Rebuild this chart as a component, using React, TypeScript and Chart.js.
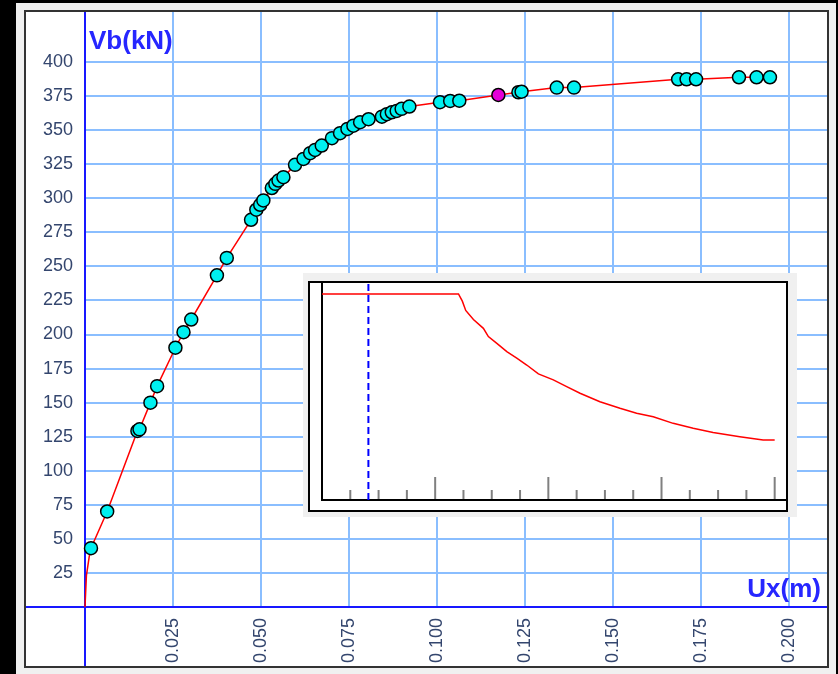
import React, { useEffect, useRef } from 'react';
import { Chart, registerables } from 'chart.js';

Chart.register(...registerables);

// Pushover curve: roof displacement Ux (m) and base shear Vb (kN)
const uxData = [
  0, 0.0004, 0.0012, 0.0017, 0.0063, 0.0149, 0.0155, 0.0186, 0.0205, 0.0257,
  0.028, 0.0302, 0.0375, 0.0403, 0.0472, 0.0487, 0.0498, 0.0507, 0.0531, 0.0541,
  0.055, 0.0564, 0.0597, 0.0621, 0.064, 0.0654, 0.0673, 0.0702, 0.0725, 0.0746,
  0.0763, 0.0782, 0.0806, 0.0844, 0.0858, 0.0872, 0.0886, 0.09, 0.0922, 0.1009,
  0.1038, 0.1064, 0.1175, 0.1232, 0.1241, 0.1341, 0.139, 0.1686, 0.171, 0.1737,
  0.1859, 0.1909, 0.1947,
];
const vbData = [
  0, 23, 37, 43.2, 70.1, 129.2, 130.4, 150, 162.1, 190.3,
  201.7, 211, 243.4, 256.2, 284.2, 291.6, 295.2, 298.4, 307.5, 310.6,
  313, 315.5, 324.5, 328.9, 333.1, 335.5, 338.7, 344.1, 347.8, 350.9,
  353.3, 355.8, 358, 359.9, 361.7, 363.1, 364.1, 365.6, 367.3, 370.5,
  371.4, 371.6, 375.8, 377.8, 378.2, 381.2, 381.2, 387.3, 387.3, 387.3,
  388.8, 388.8, 388.8,
];
const unmarkedCount = 3;
const currentStepIndex = 42;
const xTickStep = 0.025;
const xTickLast = 0.2;
const yTickStep = 25;
const yTickLast = 400;
const xAxisTitle = 'Ux(m)';
const yAxisTitle = 'Vb(kN)';

// Inset: response spectrum
const periodT = [
  0, 1.206, 1.24, 1.27, 1.338, 1.426, 1.47, 1.545, 1.633, 1.721, 1.809, 1.912,
  2.044, 2.162, 2.28, 2.456, 2.633, 2.78, 2.927, 3.103, 3.28, 3.456, 3.692, 3.898, 4.0,
];
const spectrumSa = [
  1, 1, 0.965, 0.92, 0.876, 0.833, 0.793, 0.76, 0.72, 0.688, 0.655, 0.612,
  0.583, 0.55, 0.518, 0.477, 0.445, 0.421, 0.404, 0.372, 0.348, 0.328, 0.307, 0.291, 0.291,
];
const structurePeriod = 0.41;
const insetMinorTicks = [0.25, 0.5, 0.75, 1.25, 1.5, 1.75, 2.25, 2.5, 2.75, 3.25, 3.5, 3.75];
const insetMajorTicks = [1, 2, 3, 4];

const FONT = '"Liberation Sans", Arial, sans-serif';
const GRID = 'rgb(138,190,255)';
const TICK_COLOR = '#34466E';
const AXIS_BLUE = '#1818FF';

export default function App() {
  const mainRef = useRef<HTMLCanvasElement>(null);
  const insetRef = useRef<HTMLCanvasElement>(null);

  useEffect(() => {
    const bgPlugin = {
      id: 'mainBg',
      beforeDraw(chart: any) {
        const c = chart.ctx;
        c.save();
        c.fillStyle = '#000';
        c.fillRect(0, 0, 838, 674);
        c.fillStyle = '#F0F0F0';
        c.fillRect(16, 3, 820, 671);
        c.fillStyle = '#FFFFFF';
        c.fillRect(25, 11, 803, 656);
        c.restore();
      },
    };
    const axesPlugin = {
      id: 'mainAxes',
      beforeDatasetsDraw(chart: any) {
        const { ctx, scales } = chart;
        const x0 = scales.x.getPixelForValue(0);
        const y0 = scales.y.getPixelForValue(0);
        ctx.save();
        ctx.strokeStyle = AXIS_BLUE;
        ctx.lineWidth = 2;
        ctx.beginPath();
        ctx.moveTo(x0, 11);
        ctx.lineTo(x0, 667);
        ctx.moveTo(25, y0);
        ctx.lineTo(828, y0);
        ctx.stroke();
        ctx.restore();
      },
      afterDraw(chart: any) {
        const { ctx } = chart;
        ctx.save();
        ctx.fillStyle = '#2626FF';
        ctx.font = `bold 26px ${FONT}`;
        ctx.textBaseline = 'alphabetic';
        ctx.textAlign = 'left';
        ctx.fillText(yAxisTitle, 89, 49);
        ctx.textAlign = 'right';
        ctx.fillText(xAxisTitle, 821, 597);
        ctx.strokeStyle = '#333';
        ctx.lineWidth = 2;
        ctx.strokeRect(25, 11, 803, 656);
        ctx.restore();
      },
    };

    const main = new Chart(mainRef.current!, {
      type: 'line',
      data: {
        datasets: [
          {
            data: uxData.map((x, i) => ({ x, y: vbData[i] })),
            borderColor: '#FF0000',
            borderWidth: 1.5,
            tension: 0,
            pointRadius: uxData.map((_, i) => (i < unmarkedCount ? 0 : 6.5)),
            pointBackgroundColor: uxData.map((_, i) => (i === currentStepIndex ? '#E400D8' : '#00F0F0')),
            pointBorderColor: '#000',
            pointBorderWidth: 1.5,
            clip: false as any,
          },
        ],
      },
      options: {
        responsive: false,
        animation: false,
        events: [],
        layout: { padding: { left: 25, right: 10, top: 12, bottom: 7 } },
        plugins: { legend: { display: false }, tooltip: { enabled: false } },
        scales: {
          x: {
            type: 'linear',
            min: 0,
            max: 0.2112,
            afterFit: (s: any) => {
              s.height = 60;
              s.paddingLeft = 0;
              s.paddingRight = 0;
            },
            afterBuildTicks: (s: any) => {
              s.ticks = s.ticks.filter((t: any) => t.value > 1e-9 && t.value <= xTickLast + 1e-9);
            },
            ticks: {
              stepSize: xTickStep,
              minRotation: 90,
              maxRotation: 90,
              autoSkip: false,
              includeBounds: false,
              padding: 11,
              color: TICK_COLOR,
              font: { family: FONT, size: 18 },
              callback: (v: any) => Number(v).toFixed(3),
            },
            grid: { color: GRID, lineWidth: 2, drawTicks: false },
            border: { display: false },
          },
          y: {
            type: 'linear',
            min: 0,
            max: 436.7,
            afterFit: (s: any) => {
              s.width = 60;
              s.paddingTop = 0;
              s.paddingBottom = 0;
            },
            afterBuildTicks: (s: any) => {
              s.ticks = s.ticks.filter((t: any) => t.value > 1e-9 && t.value <= yTickLast + 1e-9);
            },
            ticks: {
              stepSize: yTickStep,
              autoSkip: false,
              includeBounds: false,
              padding: 12,
              color: TICK_COLOR,
              font: { family: FONT, size: 18 },
              callback: (v: any) => String(Math.round(Number(v))),
            },
            grid: { color: GRID, lineWidth: 2, drawTicks: false },
            border: { display: false },
          },
        },
      },
      plugins: [bgPlugin, axesPlugin],
    });

    const insetBg = {
      id: 'insetBg',
      beforeDraw(chart: any) {
        const c = chart.ctx;
        c.save();
        c.fillStyle = '#F0F0F0';
        c.fillRect(0, 0, 494, 244);
        c.fillStyle = '#FFFFFF';
        c.fillRect(6, 9, 478, 229);
        c.strokeStyle = '#000';
        c.lineWidth = 2;
        c.strokeRect(6, 9, 478, 229);
        c.restore();
      },
      beforeDatasetsDraw(chart: any) {
        const { ctx, chartArea, scales } = chart;
        const base = scales.y.getPixelForValue(0);
        ctx.save();
        ctx.strokeStyle = '#808080';
        ctx.lineWidth = 2;
        ctx.beginPath();
        insetMinorTicks.forEach((t) => {
          const px = scales.x.getPixelForValue(t);
          ctx.moveTo(px, base);
          ctx.lineTo(px, base - 10);
        });
        insetMajorTicks.forEach((t) => {
          const px = scales.x.getPixelForValue(t);
          ctx.moveTo(px, base);
          ctx.lineTo(px, base - 23);
        });
        ctx.stroke();
        ctx.strokeStyle = '#000';
        ctx.beginPath();
        const x0 = scales.x.getPixelForValue(0);
        ctx.moveTo(x0, chartArea.top);
        ctx.lineTo(x0, base);
        ctx.lineTo(chartArea.right, base);
        ctx.stroke();
        ctx.restore();
      },
    };

    const inset = new Chart(insetRef.current!, {
      type: 'line',
      data: {
        datasets: [
          {
            data: periodT.map((x, i) => ({ x, y: spectrumSa[i] })),
            borderColor: '#FF0000',
            borderWidth: 1.5,
            pointRadius: 0,
            tension: 0,
          },
          {
            data: [
              { x: structurePeriod, y: 0 },
              { x: structurePeriod, y: 1.053 },
            ],
            borderColor: '#0000FF',
            borderWidth: 2,
            borderDash: [7, 4],
            pointRadius: 0,
          },
        ],
      },
      options: {
        responsive: false,
        animation: false,
        events: [],
        layout: { padding: { left: 19, top: 10, right: 11, bottom: 17 } },
        plugins: { legend: { display: false }, tooltip: { enabled: false } },
        scales: {
          x: { type: 'linear', display: false, min: 0, max: 4.1 },
          y: { type: 'linear', display: false, min: 0, max: 1.053 },
        },
      },
      plugins: [insetBg],
    });

    return () => {
      main.destroy();
      inset.destroy();
    };
  }, []);

  return (
    <div style={{ position: 'fixed', left: 0, top: 0, width: 838, height: 674, background: '#000', overflow: 'hidden' }}>
      <canvas ref={mainRef} width={838} height={674} style={{ position: 'absolute', left: 0, top: 0, width: 838, height: 674 }} />
      <canvas ref={insetRef} width={494} height={244} style={{ position: 'absolute', left: 303, top: 273, width: 494, height: 244 }} />
    </div>
  );
}
